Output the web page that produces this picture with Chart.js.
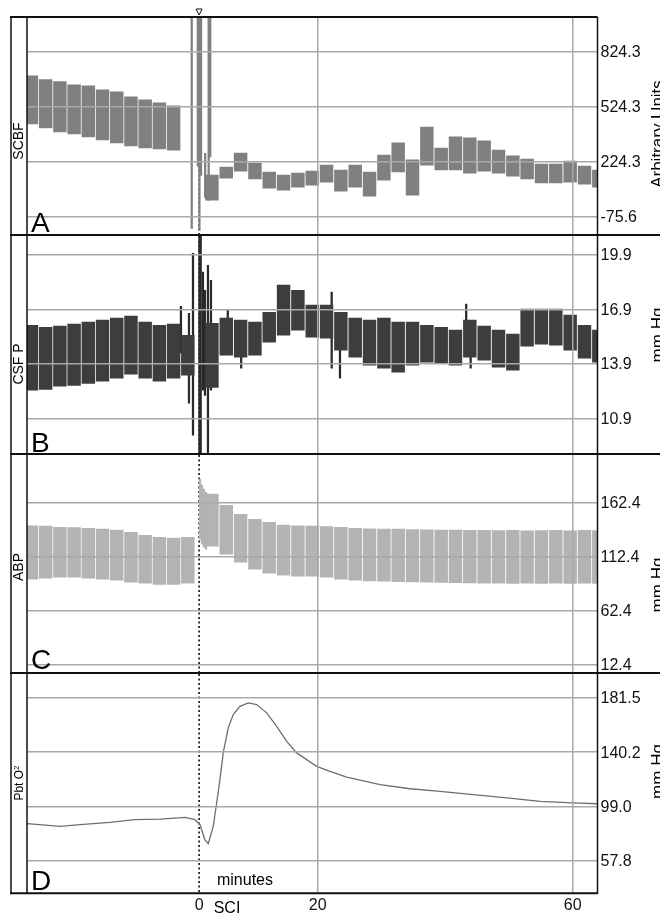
<!DOCTYPE html>
<html lang="en">
<head>
<meta charset="UTF-8">
<title>SCBF, CSF P, ABP and PbtO2 around SCI</title>
<script src="https://cdn.jsdelivr.net/npm/chart.js"></script>
<style>
    body { margin: 0; background: #fff; }
    #wrap { position: relative; width: 660px; height: 914px; overflow: hidden; }
    canvas { position: absolute; left: 0; }
</style>
</head>
<body>
<div id="wrap">
    <canvas id="chartA" width="660" height="236" style="top:0px"></canvas>
    <canvas id="chartB" width="660" height="219" style="top:236px"></canvas>
    <canvas id="chartC" width="660" height="219" style="top:455px"></canvas>
    <canvas id="chartD" width="660" height="240" style="top:674px"></canvas>
</div>
<script>
// time is in minutes; SCI is where the injury mark sits (labelled 0)
const SCI = 1.4;
const timeTicks = [SCI, 20, 60];
const timeTickLabels = ['0', '20', '60'];

// centre of each pulse block (minutes)
const blockTimes = [-24.9, -22.67, -20.44, -18.21, -15.98, -13.75, -11.52, -9.29, -7.06, -4.83, -2.6, -0.37,
    3.41, 5.66, 7.91, 10.16, 12.4, 14.65, 16.9, 19.15, 21.39, 23.64, 25.89, 28.14, 30.39, 32.63,
    34.88, 37.13, 39.38, 41.62, 43.87, 46.12, 48.37, 50.62, 52.86, 55.11, 57.36, 59.61, 61.86, 64.11];

// A - SCBF (arbitrary units)
const scbfTicks = [-75.6, 224.3, 524.3, 824.3];
const scbfHigh = [693, 672, 661, 644, 639, 617, 606, 579, 562, 546, 529, null,
    152, 195, 272, 217, 168, 152, 162, 173, 206, 179, 206, 168, 260, 327,
    234, 414, 299, 360, 354, 338, 288, 256, 239, 212, 212, 228, 201, 179];
const scbfLow = [431, 409, 387, 376, 360, 343, 327, 310, 299, 294, 288, null,
    15, 135, 173, 130, 80, 69, 86, 97, 113, 64, 86, 36, 124, 168,
    42, 206, 179, 179, 162, 173, 162, 146, 130, 108, 108, 113, 102, 86];
const scbfSpikeTimes = [0.24, 1.2, 1.45, 1.7, 2.35, 2.9, 3.15];
const scbfSpikeHigh = [1100, 1100, 1100, 1100, 270, 1100, 1100];
const scbfSpikeLow = [-140, 200, -150, 150, 30, 15, 250];

// B - CSF P (mm Hg)
const csfTicks = [10.9, 13.9, 16.9, 19.9];
const csfHigh = [16.03, 15.92, 15.98, 16.09, 16.2, 16.31, 16.42, 16.53, 16.2, 16.03, 16.09, 15.48,
    16.14, 16.42, 16.31, 16.2, 16.75, 18.24, 17.96, 17.14, 17.14, 16.75, 16.42, 16.31, 16.42, 16.2,
    16.2, 16.03, 15.92, 15.76, 16.31, 15.98, 15.76, 15.54, 16.92, 16.92, 16.92, 16.59, 16.03, 15.76];
const csfLow = [12.45, 12.5, 12.67, 12.72, 12.83, 12.95, 13.11, 13.33, 13.11, 12.95, 13.11, 13.28,
    12.61, 14.38, 14.27, 14.38, 15.1, 15.48, 15.76, 15.37, 15.32, 14.66, 14.27, 13.83, 13.66, 13.44,
    13.83, 14.0, 13.94, 13.83, 14.27, 14.1, 13.72, 13.55, 14.88, 14.99, 14.93, 14.66, 14.21, 13.99];
const csfSpikeTimes = [-1.45, -0.19, 0.44, 1.45, 1.65, 2.0, 2.32, 2.79, 3.26, 5.9, 8.0, 22.2, 23.5, 43.3, 44.0];
const csfSpikeHigh = [17.08, 16.69, 20.0, 22, 22, 18.96, 17.96, 19.34, 18.5, 16.86, 15.5, 17.86, 15.0, 17.2, 15.5];
const csfSpikeLow = [14.5, 11.73, 9.97, 8, 8, 12.45, 12.17, 8.98, 12.45, 14.5, 13.66, 13.66, 13.11, 14.5, 13.66];

// C - ABP (mm Hg)
const abpTicks = [12.4, 62.4, 112.4, 162.4];
const abpHigh = [140.6, 140.4, 139.4, 139.0, 138.5, 137.6, 136.7, 134.8, 132.0, 130.2, 129.3, 130.2,
    169.9, 159.7, 151.4, 146.8, 144.0, 141.3, 140.6, 140.4, 139.9, 139.4, 138.5, 138.0, 137.6, 137.6,
    137.2, 137.0, 136.7, 136.7, 136.5, 136.5, 136.3, 136.5, 136.0, 136.3, 136.5, 136.2, 136.5, 136.3];
const abpLow = [91.5, 92.4, 93.3, 93.3, 92.4, 91.5, 90.5, 88.7, 87.8, 86.8, 86.8, 87.8,
    121.9, 114.5, 107.1, 100.7, 97.0, 95.2, 94.2, 94.2, 93.3, 91.5, 90.5, 90.0, 89.6, 89.2,
    89.0, 88.7, 88.5, 88.3, 88.0, 87.8, 87.8, 87.6, 87.8, 87.5, 87.8, 87.6, 87.8, 87.6];
const abpSpikeTimes = [1.55, 1.85, 2.16, 2.48];
const abpSpikeHigh = [183.7, 178.2, 174.5, 171.7];
const abpSpikeLow = [128.3, 123.7, 121.0, 119.1];

// D - PbtO2 (mm Hg)
const pbtTicks = [57.8, 99.0, 140.2, 181.5];
const pbtTimes = [-25.6, -20.4, -17.3, -12.6, -8.7, -4.7, -0.8, 0.75, 1.54, 2.3, 2.84, 3.62, 4.16, 4.67,
    5.19, 5.98, 6.76, 7.81, 9.11, 10.43, 12.0, 13.57, 15.14, 16.7, 18.27, 19.84, 21.93, 24.55,
    29.8, 34.5, 39.2, 44.4, 49.7, 54.9, 60.0, 63.9];
const pbtValues = [85.9, 83.8, 85.1, 86.8, 88.9, 89.4, 90.6, 88.9, 85.1, 73.7, 70.7, 83.8, 101.8, 119.3,
    139.8, 158.8, 168.7, 175.0, 177.5, 176.3, 170.0, 159.8, 148.4, 139.6, 134.5, 129.4, 125.6, 121.3,
    115.5, 112.4, 110.4, 107.9, 105.4, 102.8, 101.6, 101.0];

const FONT = "Arial, 'Liberation Sans', Helvetica, sans-serif";
const gridColor = '#a9a9a9';
Chart.defaults.font.family = FONT;

// turns parallel arrays into floating bars {x, y:[low, high]}
function blocks(times, low, high) {
    const out = [];
    times.forEach((t, i) => {
        if (high[i] != null) out.push({ x: t, y: [low[i], high[i]] });
    });
    return out;
}

function strokeLine(ctx, x1, y1, x2, y2) {
    ctx.beginPath();
    ctx.moveTo(x1, y1);
    ctx.lineTo(x2, y2);
    ctx.stroke();
}

// frame, side labels, panel letter and the dotted SCI line
function panelDecor(p) {
    return {
        id: 'decor' + p.letter,
        beforeDatasetsDraw(chart) {
            const { ctx, chartArea: a } = chart;
            const sx = chart.scales.x.getPixelForValue(SCI);
            ctx.save();
            ctx.strokeStyle = '#000';
            ctx.lineWidth = 1.5;
            ctx.setLineDash([2, 2.5]);
            strokeLine(ctx, sx, a.top, sx, a.bottom);
            ctx.restore();
        },
        afterDraw(chart) {
            const { ctx, chartArea: a } = chart;
            ctx.save();
            ctx.strokeStyle = '#111';
            ctx.lineWidth = 1.5;
            strokeLine(ctx, 11, a.top, 11, a.bottom);
            strokeLine(ctx, 27, a.top, 27, a.bottom);
            strokeLine(ctx, a.right, a.top, a.right, a.bottom);
            ctx.lineWidth = 2;
            if (p.first) {
                strokeLine(ctx, 10, a.top, a.right, a.top);
                // small marker above the injury line
                const sx = chart.scales.x.getPixelForValue(SCI);
                ctx.lineWidth = 1;
                ctx.beginPath();
                ctx.moveTo(sx - 3, 9);
                ctx.lineTo(sx + 3, 9);
                ctx.lineTo(sx, 15);
                ctx.closePath();
                ctx.stroke();
                ctx.lineWidth = 2;
            }
            if (p.last) strokeLine(ctx, 10, a.bottom - 0.75, a.right, a.bottom - 0.75);
            else strokeLine(ctx, 10, a.bottom - 1, 660, a.bottom - 1);

            ctx.fillStyle = '#000';
            // panel letter
            ctx.font = '28px ' + FONT;
            ctx.textAlign = 'left';
            ctx.textBaseline = 'alphabetic';
            ctx.fillText(p.letter, 31, p.letterY);

            // left signal name
            ctx.save();
            ctx.translate(19.5, p.nameY);
            ctx.rotate(-Math.PI / 2);
            ctx.font = p.nameSize + 'px ' + FONT;
            ctx.textBaseline = 'middle';
            if (p.sub) {
                const w1 = ctx.measureText(p.name).width;
                ctx.font = (p.nameSize - 4) + 'px ' + FONT;
                const w2 = ctx.measureText(p.sub).width;
                ctx.font = p.nameSize + 'px ' + FONT;
                ctx.textAlign = 'left';
                ctx.fillText(p.name, -(w1 + w2) / 2, 0);
                ctx.font = (p.nameSize - 4) + 'px ' + FONT;
                ctx.fillText(p.sub, -(w1 + w2) / 2 + w1, -3);
            } else {
                ctx.textAlign = 'center';
                ctx.fillText(p.name, 0, 0);
            }
            ctx.restore();

            // unit title on the right, cut by the page edge
            ctx.save();
            ctx.translate(650, p.unitY);
            ctx.rotate(-Math.PI / 2);
            ctx.font = '17px ' + FONT;
            ctx.textAlign = 'center';
            ctx.textBaseline = 'top';
            ctx.fillText(p.unit, 0, 0);
            ctx.restore();

            if (p.last) {
                ctx.font = '16px ' + FONT;
                ctx.textAlign = 'center';
                ctx.fillText('minutes', 245, 211);
                ctx.fillText('SCI', 227, 238.5);
            }
            ctx.restore();
        }
    };
}

function makePanel(p) {
    const tickFont = { size: 16, family: FONT };
    const xScale = {
        type: 'linear',
        min: -25.6,
        max: 63.9,
        offset: false,
        afterBuildTicks: s => { s.ticks = timeTicks.map(v => ({ value: v })); },
        afterFit: s => {
            s.height = p.last ? 20 : 0;
            s.paddingLeft = 0; s.paddingRight = 0; s.paddingTop = 0; s.paddingBottom = 0;
        },
        grid: {
            z: 1,
            offset: false,
            lineWidth: 1.5,
            drawTicks: false,
            color: c => (c.tick && c.tick.value === SCI) ? 'rgba(0,0,0,0)' : gridColor
        },
        border: { display: false },
        ticks: {
            display: !!p.last,
            autoSkip: false,
            maxRotation: 0,
            padding: 2,
            color: '#111',
            font: tickFont,
            callback: (v, i) => timeTickLabels[i]
        }
    };
    const yScale = {
        type: 'linear',
        position: 'right',
        min: p.min,
        max: p.max,
        afterBuildTicks: s => { s.ticks = p.ticks.map(v => ({ value: v })); },
        afterFit: s => {
            s.width = 62.5;
            s.paddingTop = 0; s.paddingBottom = 0; s.paddingLeft = 0; s.paddingRight = 0;
        },
        grid: { z: 1, color: gridColor, lineWidth: 1.5, drawTicks: false },
        border: { display: false },
        ticks: { padding: 3, labelOffset: 1, color: '#111', font: tickFont, callback: v => v.toFixed(1) }
    };

    let datasets;
    if (p.line) {
        datasets = [{
            type: 'line',
            data: p.line,
            borderColor: p.color,
            borderWidth: 1.3,
            pointRadius: 0,
            tension: 0
        }];
    } else {
        datasets = [
            { data: p.blocks, backgroundColor: p.color, barThickness: 12.8, grouped: false, borderWidth: 0 },
            { data: p.spikes, backgroundColor: p.spikeColor || p.color, barThickness: 1.6, grouped: false, borderWidth: 0 }
        ];
    }

    return new Chart(document.getElementById(p.canvas), {
        type: p.line ? 'line' : 'bar',
        data: { datasets: datasets },
        options: {
            responsive: false,
            animation: false,
            events: [],
            layout: { padding: { left: 27, top: p.first ? 17 : 0, right: 0, bottom: 0 } },
            plugins: { legend: { display: false }, tooltip: { enabled: false } },
            scales: { x: xScale, y: yScale }
        },
        plugins: [panelDecor(p)]
    });
}

makePanel({
    canvas: 'chartA', letter: 'A', first: true,
    min: -181, max: 1014, ticks: scbfTicks,
    blocks: blocks(blockTimes, scbfLow, scbfHigh),
    spikes: blocks(scbfSpikeTimes, scbfSpikeLow, scbfSpikeHigh),
    color: '#808080',
    name: 'SCBF', nameSize: 14, nameY: 141, letterY: 231.5,
    unit: 'Arbitrary Units', unitY: 134
});
makePanel({
    canvas: 'chartB', letter: 'B',
    min: 8.88, max: 20.95, ticks: csfTicks,
    blocks: blocks(blockTimes, csfLow, csfHigh),
    spikes: blocks(csfSpikeTimes, csfSpikeLow, csfSpikeHigh),
    color: '#3d3d3d', spikeColor: '#2a2a2a',
    name: 'CSF P', nameSize: 14, nameY: 128, letterY: 215.5,
    unit: 'mm Hg', unitY: 99
});
makePanel({
    canvas: 'chartC', letter: 'C',
    min: 4.1, max: 206.0, ticks: abpTicks,
    blocks: blocks(blockTimes, abpLow, abpHigh),
    spikes: blocks(abpSpikeTimes, abpSpikeLow, abpSpikeHigh),
    color: '#b3b3b3',
    name: 'ABP', nameSize: 14, nameY: 112, letterY: 214,
    unit: 'mm Hg', unitY: 130
});
makePanel({
    canvas: 'chartD', letter: 'D', last: true,
    min: 32.5, max: 199.5, ticks: pbtTicks,
    line: pbtTimes.map((t, i) => ({ x: t, y: pbtValues[i] })),
    color: '#6e6e6e',
    name: 'Pbt O', sub: '2', nameSize: 12, nameY: 109, letterY: 216,
    unit: 'mm Hg', unitY: 97.5
});
</script>
</body>
</html>
